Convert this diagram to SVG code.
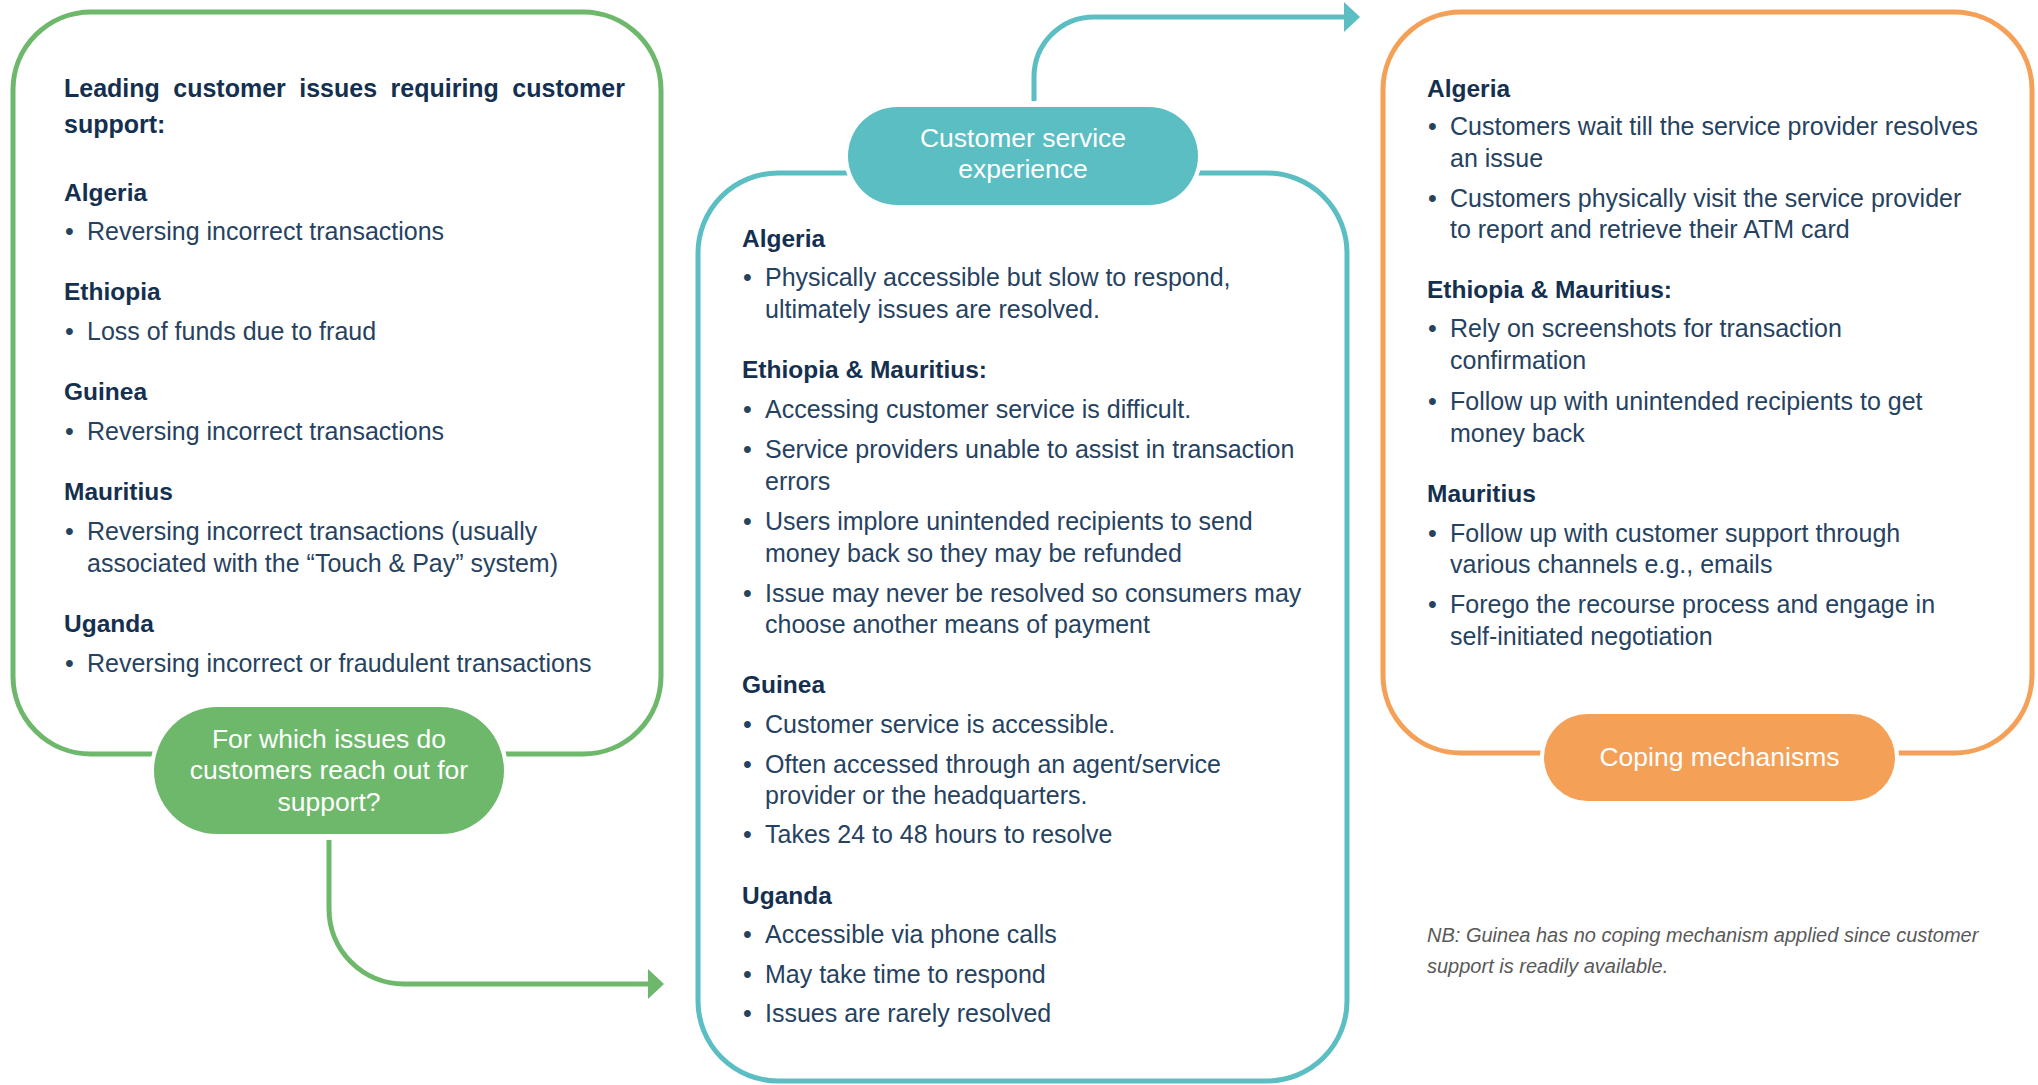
<svg xmlns="http://www.w3.org/2000/svg" width="2038" height="1085" viewBox="0 0 2038 1085">
  <defs>
    <style>
      .frame { fill: none; stroke-width: 5; }
      .pill { stroke: #ffffff; stroke-width: 8; paint-order: stroke; }
      .pill-t { font-family: "Liberation Sans", Arial, sans-serif; font-size: 26.5px; fill: #ffffff; text-anchor: middle; }
      .title { font-family: "Liberation Sans", Arial, sans-serif; font-size: 25px; font-weight: bold; fill: #15304F; word-spacing: 6.5px; }
      .h { font-family: "Liberation Sans", Arial, sans-serif; font-size: 24.5px; font-weight: bold; fill: #15304F; }
      .b { font-family: "Liberation Sans", Arial, sans-serif; font-size: 25px; fill: #26425F; }
      .nb { font-family: "Liberation Sans", Arial, sans-serif; font-size: 20px; font-style: italic; fill: #595959; }
      .link { fill: none; stroke-width: 5; }
      .green { stroke: #6DB86A; }
      .teal { stroke: #5BBEC2; }
      .orange { stroke: #F5A057; }
    </style>
    <marker id="arrow-green" viewBox="0 0 16 30" markerWidth="16" markerHeight="30" refX="0" refY="15" orient="auto" markerUnits="userSpaceOnUse">
      <path d="M0,0 L16,15 L0,30 Z" fill="#6DB86A"/>
    </marker>
    <marker id="arrow-teal" viewBox="0 0 16 30" markerWidth="16" markerHeight="30" refX="0" refY="15" orient="auto" markerUnits="userSpaceOnUse">
      <path d="M0,0 L16,15 L0,30 Z" fill="#5BBEC2"/>
    </marker>
  </defs>

  <rect width="2038" height="1085" fill="#ffffff"/>

  <!-- Issues requiring support -->
  <g id="issues">
    <rect class="frame green" x="13" y="12" width="648" height="742" rx="78" ry="78"/>
    <text class="title" x="64" y="97">Leading customer issues requiring customer</text>
    <text class="title" x="64" y="133">support:</text>

    <text class="h" x="64" y="201">Algeria</text>
    <text class="b" y="240"><tspan x="65">•</tspan><tspan x="87">Reversing incorrect transactions</tspan></text>

    <text class="h" x="64" y="300">Ethiopia</text>
    <text class="b" y="340"><tspan x="65">•</tspan><tspan x="87">Loss of funds due to fraud</tspan></text>

    <text class="h" x="64" y="400">Guinea</text>
    <text class="b" y="440"><tspan x="65">•</tspan><tspan x="87">Reversing incorrect transactions</tspan></text>

    <text class="h" x="64" y="500">Mauritius</text>
    <text class="b" y="540"><tspan x="65">•</tspan><tspan x="87">Reversing incorrect transactions (usually</tspan></text>
    <text class="b" x="87" y="572">associated with the “Touch &amp; Pay” system)</text>

    <text class="h" x="64" y="632">Uganda</text>
    <text class="b" y="672"><tspan x="65">•</tspan><tspan x="87">Reversing incorrect or fraudulent transactions</tspan></text>

    <rect class="pill" x="154" y="707" width="350" height="127" rx="63.5" ry="63.5" fill="#6DB86A"/>
    <text class="pill-t" x="329" y="747.5">For which issues do</text>
    <text class="pill-t" x="329" y="779">customers reach out for</text>
    <text class="pill-t" x="329" y="810.5">support?</text>
  </g>

  <!-- Customer service experience -->
  <g id="experience">
    <rect class="frame teal" x="698" y="173" width="649" height="908" rx="80" ry="80"/>
    <rect class="pill" x="848" y="107" width="350" height="98" rx="49" ry="49" fill="#5BBEC2"/>
    <text class="pill-t" x="1023" y="147">Customer service</text>
    <text class="pill-t" x="1023" y="178">experience</text>

    <text class="h" x="742" y="247">Algeria</text>
    <text class="b" y="286"><tspan x="743">•</tspan><tspan x="765">Physically accessible but slow to respond,</tspan></text>
    <text class="b" x="765" y="318">ultimately issues are resolved.</text>

    <text class="h" x="742" y="378">Ethiopia &amp; Mauritius:</text>
    <text class="b" y="418"><tspan x="743">•</tspan><tspan x="765">Accessing customer service is difficult.</tspan></text>
    <text class="b" y="458"><tspan x="743">•</tspan><tspan x="765">Service providers unable to assist in transaction</tspan></text>
    <text class="b" x="765" y="490">errors</text>
    <text class="b" y="530"><tspan x="743">•</tspan><tspan x="765">Users implore unintended recipients to send</tspan></text>
    <text class="b" x="765" y="562">money back so they may be refunded</text>
    <text class="b" y="602"><tspan x="743">•</tspan><tspan x="765">Issue may never be resolved so consumers may</tspan></text>
    <text class="b" x="765" y="633">choose another means of payment</text>

    <text class="h" x="742" y="693">Guinea</text>
    <text class="b" y="733"><tspan x="743">•</tspan><tspan x="765">Customer service is accessible.</tspan></text>
    <text class="b" y="773"><tspan x="743">•</tspan><tspan x="765">Often accessed through an agent/service</tspan></text>
    <text class="b" x="765" y="804">provider or the headquarters.</text>
    <text class="b" y="843"><tspan x="743">•</tspan><tspan x="765">Takes 24 to 48 hours to resolve</tspan></text>

    <text class="h" x="742" y="904">Uganda</text>
    <text class="b" y="943"><tspan x="743">•</tspan><tspan x="765">Accessible via phone calls</tspan></text>
    <text class="b" y="983"><tspan x="743">•</tspan><tspan x="765">May take time to respond</tspan></text>
    <text class="b" y="1022"><tspan x="743">•</tspan><tspan x="765">Issues are rarely resolved</tspan></text>
  </g>

  <!-- Coping mechanisms -->
  <g id="coping">
    <rect class="frame orange" x="1383" y="12" width="649" height="741" rx="78" ry="78"/>
    <text class="h" x="1427" y="97">Algeria</text>
    <text class="b" y="135"><tspan x="1428">•</tspan><tspan x="1450">Customers wait till the service provider resolves</tspan></text>
    <text class="b" x="1450" y="167">an issue</text>
    <text class="b" y="207"><tspan x="1428">•</tspan><tspan x="1450">Customers physically visit the service provider</tspan></text>
    <text class="b" x="1450" y="238">to report and retrieve their ATM card</text>

    <text class="h" x="1427" y="298">Ethiopia &amp; Mauritius:</text>
    <text class="b" y="337"><tspan x="1428">•</tspan><tspan x="1450">Rely on screenshots for transaction</tspan></text>
    <text class="b" x="1450" y="369">confirmation</text>
    <text class="b" y="410"><tspan x="1428">•</tspan><tspan x="1450">Follow up with unintended recipients to get</tspan></text>
    <text class="b" x="1450" y="442">money back</text>

    <text class="h" x="1427" y="502">Mauritius</text>
    <text class="b" y="542"><tspan x="1428">•</tspan><tspan x="1450">Follow up with customer support through</tspan></text>
    <text class="b" x="1450" y="573">various channels e.g., emails</text>
    <text class="b" y="613"><tspan x="1428">•</tspan><tspan x="1450">Forego the recourse process and engage in</tspan></text>
    <text class="b" x="1450" y="645">self-initiated negotiation</text>

    <rect class="pill" x="1544" y="714" width="351" height="87" rx="43.5" ry="43.5" fill="#F5A057"/>
    <text class="pill-t" x="1719.5" y="766">Coping mechanisms</text>
  </g>

  <!-- Footnote -->
  <g id="note">
    <text class="nb" x="1427" y="942">NB: Guinea has no coping mechanism applied since customer</text>
    <text class="nb" x="1427" y="973">support is readily available.</text>
  </g>

  <!-- Connectors -->
  <g id="connectors">
    <path class="link green" d="M329,840 V909 A75,75 0 0 0 404,984 H648" marker-end="url(#arrow-green)"/>
    <path class="link teal" d="M1034,101 V77 A60,60 0 0 1 1094,17 H1344" marker-end="url(#arrow-teal)"/>
  </g>
</svg>
